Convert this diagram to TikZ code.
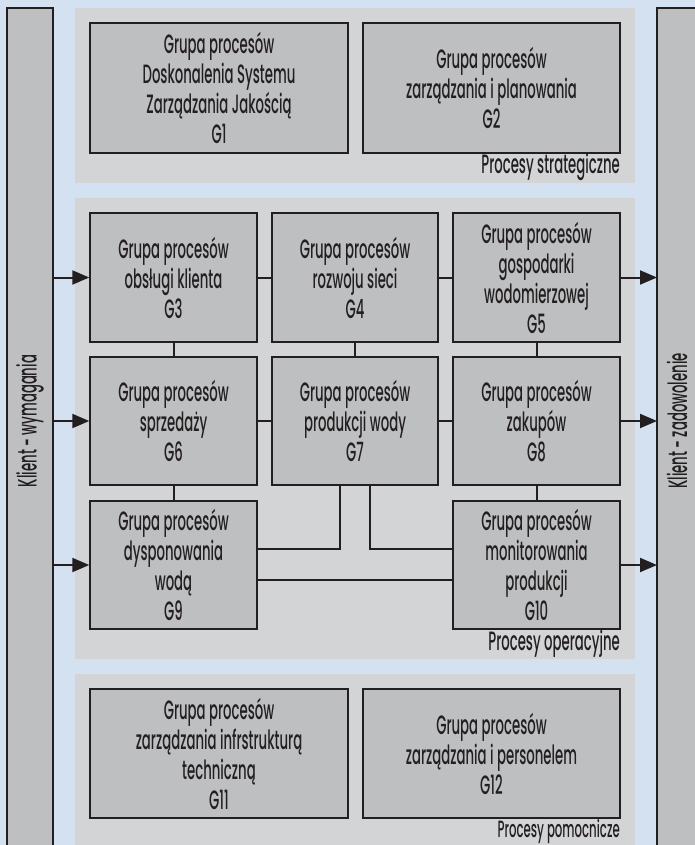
\documentclass[tikz,border=0pt]{standalone}
\usepackage{fontspec}
\usetikzlibrary{arrows.meta}
\newfontfamily\fut[FakeStretch=0.5, UprightFont={* Medium}]{Poppins}
\definecolor{bgc}{RGB}{212,225,240}
\definecolor{panelc}{RGB}{211,212,214}
\definecolor{boxc}{RGB}{190,191,193}
\definecolor{inkc}{RGB}{35,31,32}
\tikzset{
  box/.style={draw=inkc, fill=boxc, line width=1.4pt, align=center, text=inkc,
    font=\fut\fontsize{26.5}{30}\selectfont, inner sep=0pt},
  panel/.style={fill=panelc, draw=none},
  bar/.style={draw=inkc, fill=boxc, line width=1.4pt},
  conn/.style={draw=inkc, line width=2pt},
  arr/.style={conn, -{Triangle[length=17pt,width=14pt]}},
  plabel/.style={font=\fut\fontsize{26.5}{26}\selectfont, text=inkc, anchor=base east, inner sep=0pt},
  vlabel/.style={font=\fut\fontsize{26.5}{26}\selectfont, text=inkc, rotate=90, inner sep=0pt}
}
\begin{document}
\begin{tikzpicture}[x=1pt,y=-1pt]
\useasboundingbox (0,0) rectangle (695,845);
\fill[bgc] (0,0) rectangle (695,845);
% side bars
\draw[bar] (7,8) rectangle (53,852);
\draw[bar] (657,8) rectangle (702,852);
\node[vlabel] (L) at (30,421) {Klient - wymagania};
\node[vlabel] (R) at (677,421) {Klient - zadowolenie};
\coordinate (Lb) at (53,421);
\coordinate (Rb) at (657,421);
% panels
\fill[panel] (75,8) rectangle (635,183);
\fill[panel] (75,198) rectangle (635,659);
\fill[panel] (75,674) rectangle (635,850);
% strategic
\node[box, minimum width=258pt, minimum height=130pt] (G1) at (219,88)
  {Grupa procesów\\Doskonalenia Systemu\\Zarządzania Jakością\\G1};
\node[box, minimum width=257pt, minimum height=130pt] (G2) at (491.5,88)
  {Grupa procesów\\zarządzania i planowania\\G2};
\node[plabel] (PS) at (620,174) {Procesy strategiczne};
% operational
\node[box, minimum width=167pt, minimum height=129pt] (G3) at (173.5,277.5) {Grupa procesów\\obsługi klienta\\G3};
\node[box, minimum width=166pt, minimum height=129pt] (G4) at (355,277.5) {Grupa procesów\\rozwoju sieci\\G4};
\node[box, minimum width=167pt, minimum height=129pt] (G5) at (536.5,277.5) {Grupa procesów\\gospodarki\\wodomierzowej\\G5};
\node[box, minimum width=167pt, minimum height=128pt] (G6) at (173.5,421) {Grupa procesów\\sprzedaży\\G6};
\node[box, minimum width=166pt, minimum height=128pt] (G7) at (355,421) {Grupa procesów\\produkcji wody\\G7};
\node[box, minimum width=167pt, minimum height=128pt] (G8) at (536.5,421) {Grupa procesów\\zakupów\\G8};
\node[box, minimum width=167pt, minimum height=128pt] (G9) at (173.5,565) {Grupa procesów\\dysponowania\\wodą\\G9};
\node[box, minimum width=167pt, minimum height=128pt] (G10) at (536.5,565) {Grupa procesów\\monitorowania\\produkcji\\G10};
\node[plabel] (PO) at (620,650) {Procesy operacyjne};
% support
\node[box, minimum width=258pt, minimum height=129pt] (G11) at (219,753.5)
  {Grupa procesów\\zarządzania infrstrukturą\\techniczną\\G11};
\node[box, minimum width=257pt, minimum height=129pt] (G12) at (491.5,753.5)
  {Grupa procesów\\zarządzania i personelem\\G12};
\node[plabel, font=\fut\fontsize{23.5}{26}\selectfont] (PP) at (620,837.5) {Procesy pomocnicze};
% connectors
\draw[conn] (G3) -- (G4);
\draw[conn] (G4) -- (G5);
\draw[conn] (G6) -- (G7);
\draw[conn] (G7) -- (G8);
\draw[conn] (G3) -- (G6);
\draw[conn] (G6) -- (G9);
\draw[conn] (G4) -- (G7);
\draw[conn] (G5) -- (G8);
\draw[conn] (G8) -- (G10);
\draw[conn] ([yshift=16pt]G9.east) -| ([xshift=-15pt]G7.south);
\draw[conn] ([xshift=15pt]G7.south) |- ([yshift=16pt]G10.west);
\draw[conn] ([yshift=-15pt]G9.east) -- ([yshift=-15pt]G10.west);
% arrows
\draw[arr] (Lb |- G3.west) -- (G3.west);
\draw[arr] (Lb |- G6.west) -- (G6.west);
\draw[arr] (Lb |- G9.west) -- (G9.west);
\draw[arr] (G5.east) -- (Rb |- G5.east);
\draw[arr] (G8.east) -- (Rb |- G8.east);
\draw[arr] (G10.east) -- (Rb |- G10.east);
\end{tikzpicture}
\end{document}
